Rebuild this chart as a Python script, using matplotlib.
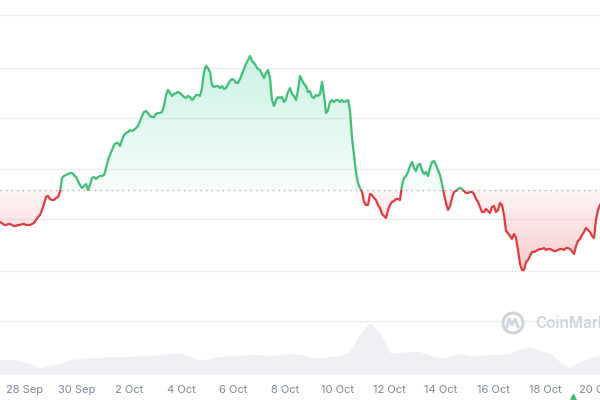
import numpy as np
import pandas as pd
import matplotlib
matplotlib.use('Agg')
import matplotlib.pyplot as plt
import matplotlib.dates as mdates
from matplotlib.path import Path
from matplotlib.patches import Rectangle, Circle
from matplotlib.lines import Line2D
from matplotlib import transforms

# price samples, one every 24/13 h starting 27 Sep 00:55
price = [
    17.8, 17.7, 17.5, 17.5, 17.6, 17.6, 17.5, 17.4, 17.4, 17.5, 17.5, 17.6, 17.6, 17.5, 17.5, 17.5, 17.6, 17.7, 18.0, 18.3,
    18.5, 19.0, 19.6, 20.3, 20.4, 20.1, 20.0, 20.0, 20.2, 20.3, 20.8, 22.2, 22.4, 22.5, 22.6, 22.7, 22.7, 22.5, 22.3, 21.9,
    21.5, 21.2, 21.4, 21.6, 21.0, 21.5, 22.2, 22.3, 22.1, 22.3, 22.4, 22.4, 22.5, 23.2, 24.0, 24.5, 25.0, 25.5, 25.7, 25.7,
    25.4, 26.0, 26.5, 26.7, 26.8, 27.0, 26.9, 27.0, 27.2, 27.4, 27.9, 28.4, 28.8, 28.9, 28.7, 28.4, 28.3, 28.3, 28.6, 28.7,
    28.7, 28.8, 29.4, 30.5, 31.0, 30.7, 30.4, 30.6, 30.7, 30.8, 30.7, 30.5, 30.3, 30.2, 30.4, 30.3, 30.0, 30.2, 30.5, 30.5,
    30.4, 31.2, 32.8, 33.4, 33.2, 32.8, 31.5, 31.3, 31.4, 31.4, 31.2, 31.4, 31.1, 31.2, 31.6, 31.9, 32.1, 32.0, 31.7, 31.7,
    32.1, 32.6, 33.1, 33.6, 34.0, 34.4, 33.9, 33.7, 33.4, 33.1, 33.0, 32.6, 32.2, 32.7, 33.0, 32.2, 30.0, 29.4, 30.0, 30.3,
    30.2, 30.3, 29.8, 30.1, 30.8, 31.2, 30.6, 30.4, 30.0, 31.0, 32.4, 32.0, 31.6, 31.4, 30.8, 30.9, 30.3, 30.2, 30.5, 30.4,
    30.6, 31.8, 30.5, 28.7, 29.0, 29.8, 30.0, 29.8, 30.0, 30.0, 29.8, 30.0, 29.8, 29.9, 30.0, 29.0, 26.2, 24.5, 22.8, 21.7,
    21.2, 20.8, 19.8, 19.5, 19.5, 20.6, 20.5, 20.2, 20.0, 19.5, 19.2, 18.6, 18.4, 18.2, 19.0, 19.5, 19.8, 19.9, 20.1, 20.1,
    20.0, 21.5, 22.2, 22.4, 22.8, 23.4, 23.8, 23.2, 22.9, 23.5, 23.6, 23.0, 22.6, 22.8, 22.4, 23.2, 23.8, 23.9, 23.5, 23.0,
    22.5, 21.6, 20.6, 19.7, 19.0, 19.4, 20.2, 20.8, 20.9, 21.1, 21.2, 21.1, 20.9, 20.7, 20.7, 20.8, 20.8, 20.6, 20.1, 19.8,
    19.3, 18.8, 18.8, 19.1, 18.9, 18.7, 19.3, 19.4, 18.8, 19.0, 19.7, 19.5, 18.5, 16.9, 16.7, 16.4, 16.1, 16.6, 16.2, 15.0,
    13.6, 13.0, 13.0, 13.8, 14.0, 14.4, 14.8, 14.8, 14.9, 15.0, 15.1, 15.1, 15.2, 15.0, 15.1, 15.1, 15.0, 14.9, 14.9, 15.0,
    15.1, 15.1, 15.0, 15.2, 15.2, 15.1, 14.9, 14.6, 15.4, 15.9, 16.1, 16.5, 16.8, 17.2, 17.0, 16.8, 16.4, 16.2, 18.0, 19.0,
    19.5,
]
# volume, one sample every 5 price steps
volume = [15, 15, 14, 11, 7, 9, 11, 15, 16, 17, 17, 18, 18, 18, 19, 19, 20, 21, 22, 18,
          14, 16, 18, 19, 19, 20, 20, 19, 20, 21, 20, 18, 17, 18, 19, 23, 40, 52, 43, 22,
          22, 23, 23, 19, 17, 18, 21, 19, 19, 20, 20, 21, 25, 28, 24, 22, 13, 7, 13, 16, 20]
open_price = 21.0
grid_levels = [7.9, 12.9, 18.1, 23.1, 28.2, 33.2, 38.5]
tick_dates = ['2023-09-28', '2023-09-30', '2023-10-02', '2023-10-04', '2023-10-06', '2023-10-08',
              '2023-10-10', '2023-10-12', '2023-10-14', '2023-10-16', '2023-10-18', '2023-10-20']
tick_labels = ['28 Sep', '30 Sep', '2 Oct', '4 Oct', '6 Oct', '8 Oct',
               '10 Oct', '12 Oct', '14 Oct', '16 Oct', '18 Oct', '20 Oct']

green = '#3fbf78'
red = '#e23b42'

start = pd.Timestamp('2023-09-27 00:55')
step = pd.Timedelta(hours=24) / 13
t = pd.date_range(start, periods=len(price), freq=step)
tv = pd.date_range(start, periods=len(volume), freq=step * 5)
price = np.array(price)

plt.rcParams['font.family'] = ['Inter', 'DejaVu Sans']
fig = plt.figure(figsize=(6, 4), dpi=100)
ax = fig.add_axes([0, 0, 1, 1])
ax.set_xlim(t[0], t[-1])
ax.set_ylim(0, 40)
ax.axis('off')

for g in grid_levels:
    ax.axhline(g, color='#eeeff2', lw=1, zorder=0)
ax.axhline(open_price, color='#a9aebb', lw=1, ls=(0, (1, 3)), zorder=1)

# gradient fills between line and opening price
coll = ax.fill_between(t, price, open_price, alpha=0, lw=0)
clip = Path.make_compound_path(*coll.get_paths())
x0, x1 = mdates.date2num(t[0]), mdates.date2num(t[-1])

def gradient(color, a_lo, a_hi, y_lo, y_hi):
    rgba = np.zeros((100, 1, 4))
    rgba[:, 0, :3] = matplotlib.colors.to_rgb(color)
    rgba[:, 0, 3] = np.linspace(a_lo, a_hi, 100)
    im = ax.imshow(rgba, extent=[x0, x1, y_lo, y_hi], origin='lower', aspect='auto', zorder=1)
    im.set_clip_path(clip, transform=ax.transData)

gradient('#16c784', 0.04, 0.22, open_price, price.max())
gradient('#ea3943', 0.26, 0.05, price.min(), open_price)

blend = transforms.blended_transform_factory(ax.transAxes, ax.transData)
for col, y0, h in [(green, open_price, 100), (red, -100, open_price + 100)]:
    ln, = ax.plot(t, price, color=col, lw=1.6, zorder=3, solid_joinstyle='round')
    rect = Rectangle((0, y0), 1, h, transform=blend, fill=False)
    ln.set_clip_path(rect)

# volume at the bottom
ax2 = ax.twinx()
ax2.fill_between(tv, volume, 0, color='#eef0f3', lw=0)
ax2.set_ylim(-25, 375)
ax2.set_xlim(t[0], t[-1])
ax2.axis('off')

for d, lab in zip(tick_dates, tick_labels):
    ax.text(pd.Timestamp(d), 0.025, lab, transform=ax.get_xaxis_transform(),
            ha='center', va='center', fontsize=8, color='#7f8697')

# watermark
fig.text(535 / 600, 1 - 323 / 400, 'CoinMarketCap', fontsize=11, fontweight='semibold',
         color='#cfd4dc', va='center', ha='left')
fig.add_artist(Circle((5.13, 0.77), 0.10, transform=fig.dpi_scale_trans, fill=False,
                      ec='#cfd4dc', lw=2.2))
fig.add_artist(Line2D([5.07, 5.09, 5.12, 5.15, 5.18], [0.73, 0.81, 0.75, 0.81, 0.73],
                      transform=fig.dpi_scale_trans, color='#cfd4dc', lw=2))
fig.add_artist(Line2D([5.73], [0.02], marker='^', ms=6, color='#3fbf78', ls='',
                      transform=fig.dpi_scale_trans))

fig.savefig('out.png', dpi=100)
